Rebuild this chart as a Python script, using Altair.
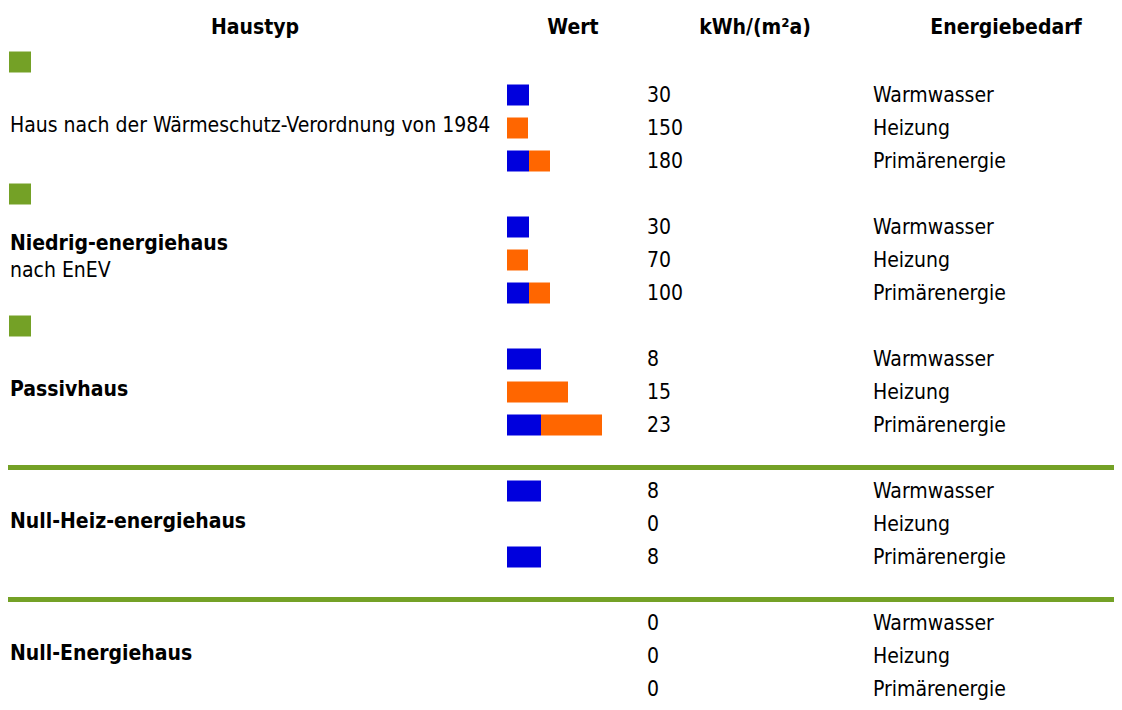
import altair as alt
import pandas as pd

# ---- data ----
haustyp = [
    "Haus nach der Wärmeschutz-Verordnung von 1984",
    "Niedrig-energiehaus",
    "Passivhaus",
    "Null-Heiz-energiehaus",
    "Null-Energiehaus",
]
haustyp_zusatz = ["", "nach EnEV", "", "", ""]
haustyp_fett = [False, True, True, True, True]
warmwasser = [30, 30, 8, 8, 0]
heizung = [150, 70, 15, 0, 0]
primaerenergie = [180, 100, 23, 8, 0]
# displayed bar lengths (as drawn in the reference, not proportional to kWh)
balken_warmwasser = [22, 22, 34, 34, 0]
balken_heizung = [21, 21, 61, 0, 0]
bedarf = ["Warmwasser", "Heizung", "Primärenergie"]
spalten = ["Haustyp", "Wert", "kWh/(m²a)", "Energiebedarf"]

# ---- layout constants ----
W, H = 1106, 694
FONT = "DejaVu Sans Condensed"
FS = 21
DY = 1
BLUE, ORANGE, GREEN = "#0000DD", "#FF6600", "#74A126"
ROW0, ROWSTEP, NROWS = 54.0, 33.0, 19

yscale = alt.Scale(domain=[0, NROWS], range=[ROW0, ROW0 + ROWSTEP * NROWS])
xscale = alt.Scale(domain=[0, 100], range=[499, 599])

# ---- build tables ----
zahlen, balken, quad, linien, typen = [], [], [], [], []
for g in range(len(haustyp)):
    base = 4 * g
    vals = [warmwasser[g], heizung[g], primaerenergie[g]]
    for i in range(3):
        zahlen.append({"row": base + 1 + i, "wert": str(vals[i]), "bedarf": bedarf[i]})
    ww, hz = balken_warmwasser[g], balken_heizung[g]
    segs = [
        (base + 1, 0, ww, "Warmwasser"),
        (base + 2, 0, hz, "Heizung"),
        (base + 3, 0, ww, "Warmwasser"),
        (base + 3, ww, ww + hz, "Heizung"),
    ]
    for r, a, b, k in segs:
        if b > a:
            balken.append({"row": r, "start": a, "end": b, "komp": k})
    if g < 3:
        quad.append({"row": base})
    else:
        linien.append({"row": base + 0.29})
    if haustyp_zusatz[g]:
        typen.append({"row": base + 1.47, "text": haustyp[g], "fett": haustyp_fett[g]})
        typen.append({"row": base + 2.3, "text": haustyp_zusatz[g], "fett": False})
    else:
        typen.append({"row": base + 1.9, "text": haustyp[g], "fett": haustyp_fett[g]})

df_z = pd.DataFrame(zahlen)
df_b = pd.DataFrame(balken)
df_q = pd.DataFrame(quad)
df_l = pd.DataFrame(linien)
df_t = pd.DataFrame(typen)
df_tb = df_t[df_t["fett"]]
df_tn = df_t[~df_t["fett"]]
df_h = pd.DataFrame({"text": spalten, "xpos": [247, 565, 747, 998], "row": [-1.06] * 4})

y_enc = alt.Y("row:Q", scale=yscale, axis=None)

header = alt.Chart(df_h).mark_text(
    font=FONT, fontSize=FS, fontWeight="bold", align="center", baseline="middle", color="black", dy=DY
).encode(
    x=alt.X("xpos:Q", scale=alt.Scale(domain=[0, W], range=[0, W]), axis=None),
    y=y_enc,
    text="text:N",
)

squares = alt.Chart(df_q).mark_rect(height=21, color=GREEN).encode(
    x=alt.value(1), x2=alt.value(23), y=y_enc
)

rules = alt.Chart(df_l).mark_rule(color=GREEN, strokeWidth=5).encode(
    x=alt.value(0), x2=alt.value(W), y=y_enc
)

bars = alt.Chart(df_b).mark_rect(height=21).encode(
    x=alt.X("start:Q", scale=xscale, axis=None),
    x2="end:Q",
    y=y_enc,
    color=alt.Color("komp:N", scale=alt.Scale(domain=["Warmwasser", "Heizung"], range=[BLUE, ORANGE]), legend=None),
)

werte = alt.Chart(df_z).mark_text(
    font=FONT, fontSize=FS, align="left", baseline="middle", color="black", dy=DY
).encode(x=alt.value(639), y=y_enc, text="wert:N")

bedarf_t = alt.Chart(df_z).mark_text(
    font=FONT, fontSize=FS, align="left", baseline="middle", color="black", dy=DY
).encode(x=alt.value(865), y=y_enc, text="bedarf:N")

typ_b = alt.Chart(df_tb).mark_text(
    font=FONT, fontSize=FS, fontWeight="bold", align="left", baseline="middle", color="black", dy=DY
).encode(x=alt.value(2), y=y_enc, text="text:N")

typ_n = alt.Chart(df_tn).mark_text(
    font=FONT, fontSize=FS, align="left", baseline="middle", color="black", dy=DY
).encode(x=alt.value(2), y=y_enc, text="text:N")

chart = alt.layer(squares, rules, bars, header, werte, bedarf_t, typ_b, typ_n).resolve_scale(
    x="independent"
).properties(
    width=W, height=H, padding=0, autosize=alt.AutoSizeParams(type="none")
).configure_view(stroke=None)

chart.save("out.html", embed_options={"renderer": "svg", "actions": False})
